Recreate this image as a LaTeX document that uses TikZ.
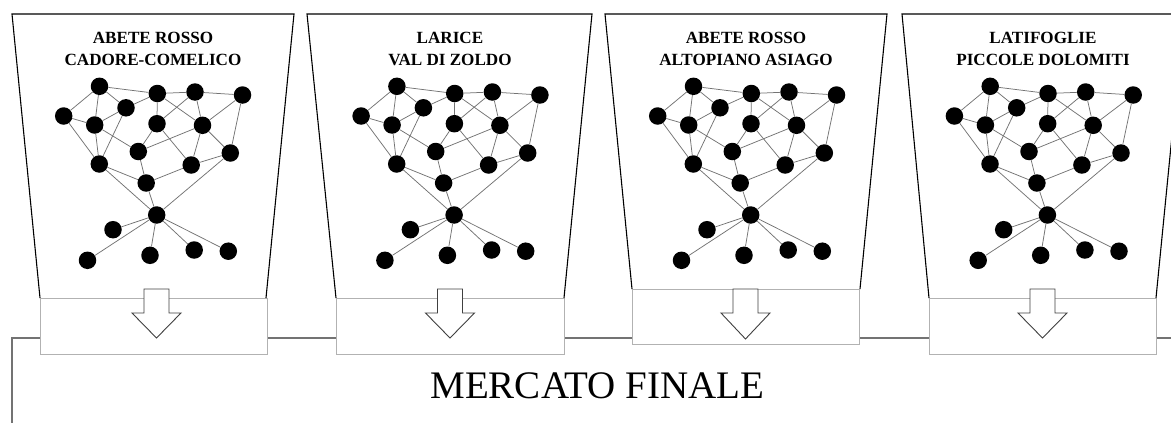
\documentclass[tikz,border=0pt]{standalone}
\usepackage{fontspec}
\setmainfont{Liberation Serif}
\begin{document}
\begin{tikzpicture}[x=1pt,y=-1pt,
  dot/.style={circle, fill=black, draw=none, inner sep=0pt, minimum size=17.5pt},
  netedge/.style={draw=black!55, line width=0.75pt},
  panel/.style={draw=black, line width=1.1pt},
  outbox/.style={draw=black!30, fill=white, line width=0.8pt},
  blockarrow/.style={draw=black!75, fill=white, line width=0.9pt, line join=miter},
  frameline/.style={draw=black!55, line width=1.2pt},
  title/.style={font=\bfseries\fontsize{17.1}{20}\selectfont, anchor=base, inner sep=0pt},
  net/.pic={
    \foreach \n/\x/\y in {1/99.5/86.3, 2/157.3/93.5, 3/195/92, 4/242.5/95,
      5/63.7/116, 6/126/107.8, 7/94.7/125, 8/157/123.7, 9/202.5/125.3,
      10/138.3/151.5, 11/230.3/153, 12/99.3/164, 13/191.2/165, 14/146.2/183,
      15/156.7/215, 16/113/229.7, 17/87.5/260.3, 18/150/255.3, 19/194.2/250,
      20/228.3/251.2}
      \node[dot] (-\n) at (\x,\y) {};
    \foreach \a/\b in {1/2, 2/3, 3/4, 5/1, 1/7, 1/6, 6/2, 6/7, 6/12, 5/7, 5/12,
      7/12, 7/10, 2/8, 2/9, 3/8, 3/9, 4/9, 4/11, 8/10, 8/13, 9/10, 9/13, 9/11,
      10/14, 12/14, 13/14, 11/13, 12/15, 11/15, 14/15, 15/16, 15/17, 15/18,
      15/19, 15/20}
      \draw[netedge] (-\a) -- (-\b);
  }]
\useasboundingbox (0,0) rectangle (1171,423);
\begin{scope}
\clip (0,0) rectangle (1171,423);
% outer frame of the final market
\draw[frameline] (12,423) -- (12,338) -- (1171,338);
% output boxes
\draw[outbox] (40,298) rectangle (267,354);
\draw[outbox] (336,298) rectangle (564,354);
\draw[outbox] (632,289) rectangle (859,344);
\draw[outbox] (929,298) rectangle (1156,354);
% panels
\draw[panel] (40,298) -- (12,14) -- (294,14) -- (266,298);
\draw[panel] (336,298) -- (307,14) -- (592,14) -- (564,298);
\draw[panel] (632,289) -- (605,14) -- (887,14) -- (860,289);
\draw[panel] (929,298) -- (902,14) -- (1184,14) -- (1156,298);
% block arrows
\foreach \c/\t in {156.5/338, 450/338, 745.5/339, 1042.5/338}
  \draw[blockarrow] (\c-12.5,289) -- (\c+12.5,289) -- (\c+12.5,313) -- (\c+24.5,313)
    -- (\c,\t) -- (\c-24.5,313) -- (\c-12.5,313) -- cycle;
\end{scope}
% networks
\pic (a) at (0,0) {net};
\pic (b) at (297.4,0) {net};
\pic (c) at (594,0) {net};
\pic (d) at (890.7,0) {net};
% titles
\node[title] (t1a) at (153,43.5) {ABETE ROSSO};
\node[title] (t1b) at (153,65) {CADORE-COMELICO};
\node[title] (t2a) at (450,43.5) {LARICE};
\node[title] (t2b) at (450,65) {VAL DI ZOLDO};
\node[title] (t3a) at (746,43.5) {ABETE ROSSO};
\node[title] (t3b) at (746,65) {ALTOPIANO ASIAGO};
\node[title] (t4a) at (1043,43.5) {LATIFOGLIE};
\node[title] (t4b) at (1043,65) {PICCOLE DOLOMITI};
\node[font=\fontsize{39}{45}\selectfont, anchor=base, inner sep=0pt] (mf) at (597.5,398) {MERCATO FINALE};
\end{tikzpicture}
\end{document}
